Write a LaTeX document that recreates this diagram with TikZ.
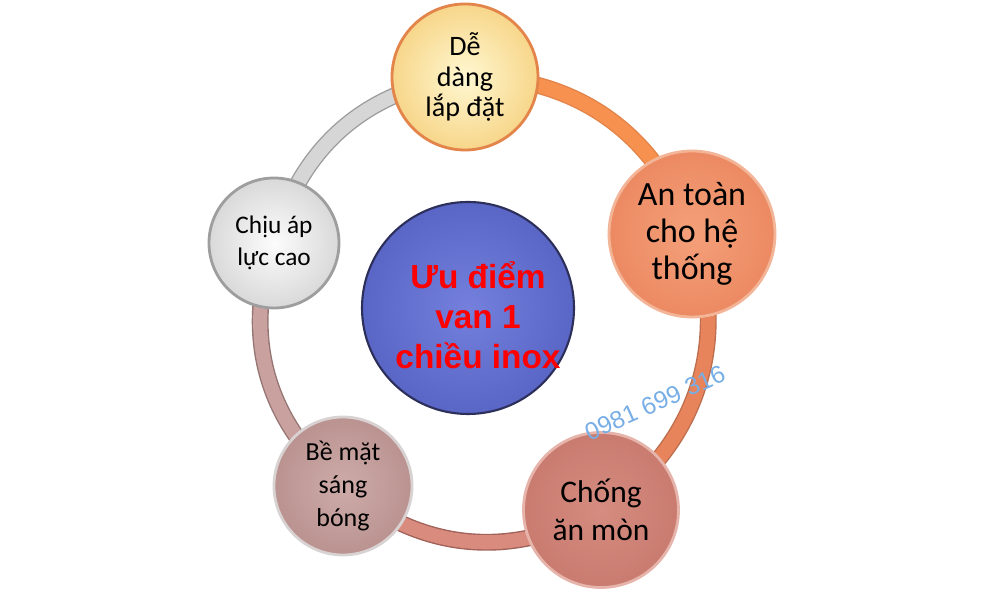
\documentclass[tikz,border=0pt]{standalone}
\usepackage{fontspec}
\setmainfont{Carlito}
\newfontfamily\headfont{Liberation Sans}
\usepackage{tikz}
\usetikzlibrary{positioning,calc,backgrounds}

\definecolor{hub-in}{HTML}{7480DC}
\definecolor{hub-out}{HTML}{5A66C6}
\definecolor{hub-edge}{HTML}{2C2F5A}
\definecolor{fit-in}{HTML}{FFF8D2}
\definecolor{fit-out}{HTML}{F7D68A}
\definecolor{fit-edge}{HTML}{E3844A}
\definecolor{safe-in}{HTML}{F4A07A}
\definecolor{safe-out}{HTML}{EC8A62}
\definecolor{safe-edge}{HTML}{F3B597}
\definecolor{rust-in}{HTML}{D68C80}
\definecolor{rust-out}{HTML}{C97B70}
\definecolor{rust-edge}{HTML}{E6B4AA}
\definecolor{shine-in}{HTML}{CDABA9}
\definecolor{shine-out}{HTML}{BA9390}
\definecolor{shine-edge}{HTML}{D9D2D2}
\definecolor{press-in}{HTML}{FCFCFC}
\definecolor{press-out}{HTML}{D9D9D9}
\definecolor{press-edge}{HTML}{9E9E9E}
\definecolor{ring-a}{HTML}{F6914F}
\definecolor{ring-b}{HTML}{E8845C}
\definecolor{ring-c}{HTML}{D98C7E}
\definecolor{ring-d}{HTML}{C9A2A0}
\definecolor{ring-e}{HTML}{D6D6D6}
\definecolor{phone-blue}{HTML}{78AEE6}

\begin{document}
\begin{tikzpicture}[x=0.2mm, y=0.2mm, thick,
    bubble/.style={circle, inner sep=0pt, align=center, text=black, line width=1.6pt},
    band/.style={line width=0.8pt, double distance=8pt}]
        \useasboundingbox (0,0) rectangle (1000,600);

        \node[bubble, minimum size=42.4mm, draw=hub-edge, line width=1.2pt,
              inner color=hub-in, outer color=hub-out] (hub) at (468,292) {};
        \node[align=center, text=red, font=\headfont\bfseries\fontsize{19}{22.8}\selectfont]
              (hub-text) at ($(hub)+(10,-7)$) {Ưu điểm\\van 1\\chiều inox};

        \node[bubble, minimum size=29.2mm, draw=fit-edge, inner color=fit-in, outer color=fit-out,
              font=\fontsize{16}{17.6}\selectfont] (easy-fit) at (465,523) {Dễ\\dàng\\lắp đặt};
        \node[bubble, minimum size=33.2mm, draw=safe-edge, inner color=safe-in, outer color=safe-out,
              font=\fontsize{19.3}{21}\selectfont] (safe-system) at (692,366) {An toàn\\cho hệ\\thống};
        \node[bubble, minimum size=31mm, draw=rust-edge, inner color=rust-in, outer color=rust-out,
              font=\fontsize{17.9}{21.6}\selectfont] (no-rust) at (601,90) {Chống\\ăn mòn};
        \node[bubble, minimum size=27.6mm, draw=shine-edge, inner color=shine-in, outer color=shine-out,
              font=\fontsize{14.8}{18.8}\selectfont] (shiny) at (343,114) {Bề mặt\\sáng\\bóng};
        \node[bubble, minimum size=26mm, draw=press-edge, inner color=press-in, outer color=press-out,
              font=\fontsize{14.4}{18}\selectfont] (high-press) at (274,357) {Chịu áp\\lực cao};

        \begin{scope}[on background layer]
        \draw[band, draw=fit-edge, double=ring-a] (easy-fit.center) to[bend left=36] (safe-system.center);
        \draw[band, draw=safe-out!80!black, double=ring-b] (safe-system.center) to[bend left=39] (no-rust.center);
        \draw[band, draw=rust-out!80!black, double=ring-c] (no-rust.center) to[bend left=35] (shiny.center);
        \draw[band, draw=shine-out!80!black, double=ring-d] (shiny.center) to[bend left=35] (high-press.center);
        \draw[band, draw=press-edge, double=ring-e] (high-press.center) to[bend left=34] (easy-fit.center);
        \end{scope}

        \node[rotate=24, text=phone-blue, font=\headfont\fontsize{14}{14}\selectfont] (phone) at (655,197) {0981 699 316};
      \end{tikzpicture}
\end{document}
